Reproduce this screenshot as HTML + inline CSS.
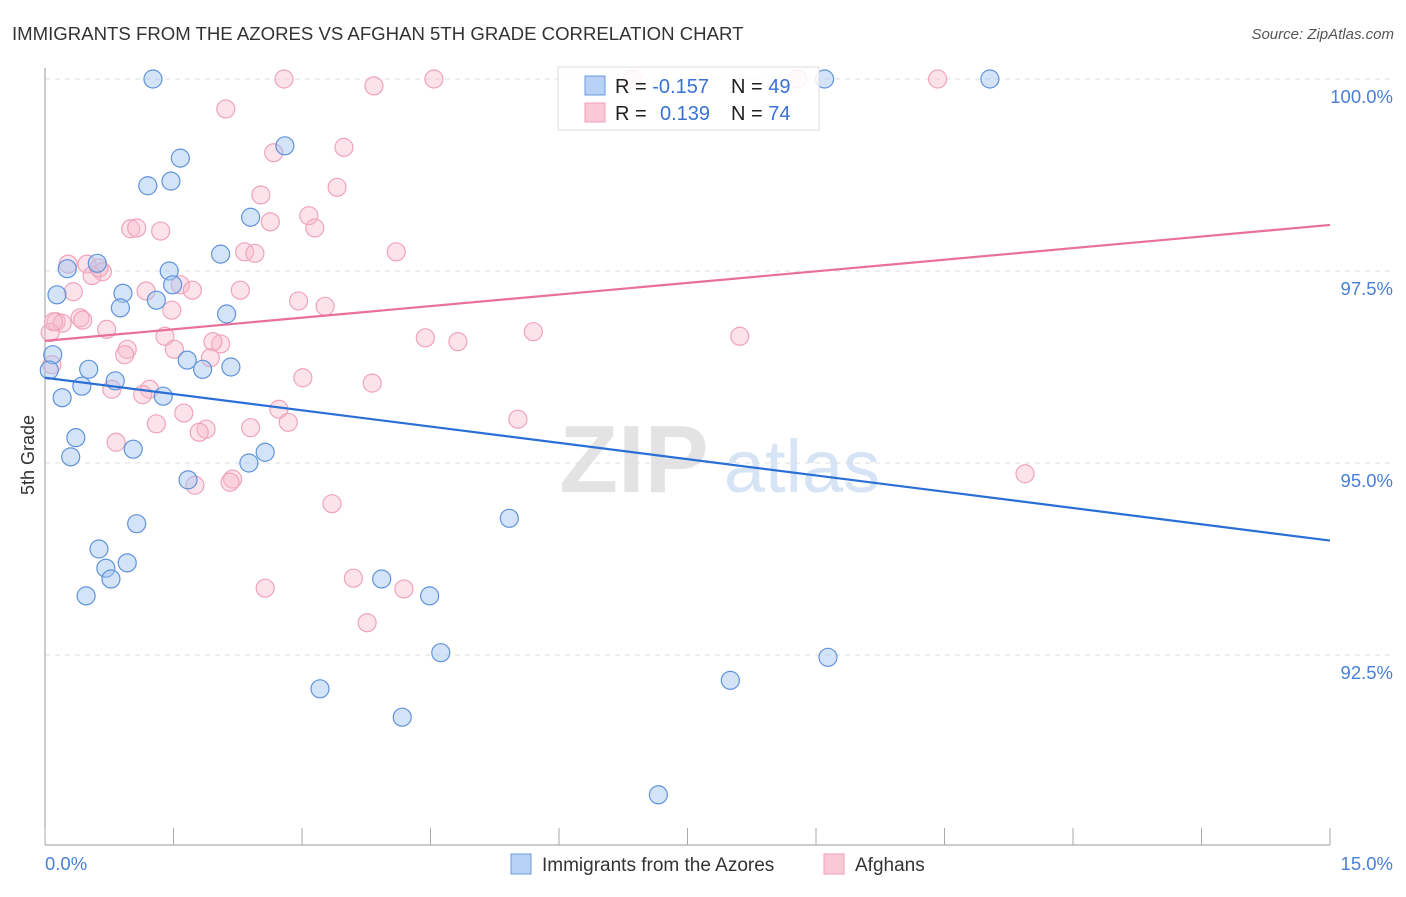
<!DOCTYPE html>
<html><head><meta charset="utf-8"><style>
body{margin:0;background:#fff;font-family:"Liberation Sans",sans-serif;}
svg text{font-family:"Liberation Sans",sans-serif;}
</style></head><body>
<svg width="1406" height="892" viewBox="0 0 1406 892">
<text x="12" y="40" font-size="18.6" fill="#333">IMMIGRANTS FROM THE AZORES VS AFGHAN 5TH GRADE CORRELATION CHART</text>
<text x="1394" y="39" font-size="15" fill="#555" text-anchor="end" font-style="italic">Source: ZipAtlas.com</text>
<g>
<text x="634" y="492" font-size="96" fill="#e3e3e3" text-anchor="middle" font-family="Liberation Serif" font-weight="bold">ZIP</text>
<text x="802" y="492" font-size="74" fill="#d6e4f5" text-anchor="middle">atlas</text>
</g>
<g id="grid"></g>
<g id="axes"></g>
<g id="pts"></g>
<g id="lines"></g>
<text transform="translate(34,455) rotate(-90)" font-size="18" fill="#333" text-anchor="middle">5th Grade</text>
<g>
<rect x="558" y="67" width="261" height="63" fill="rgba(255,255,255,0.85)" stroke="#ddd"/>
<rect x="585" y="76" width="20" height="19" fill="#b8d2f5" stroke="#6a9ae0"/>
<rect x="585" y="103" width="20" height="19" fill="#fbc8d6" stroke="#f0a0b8"/>
<text x="615" y="93" font-size="20" fill="#222">R = <tspan fill="#3a72d4">-0.157</tspan><tspan x="731">N = </tspan><tspan fill="#3a72d4">49</tspan></text>
<text x="615" y="120" font-size="20" fill="#222">R = <tspan x="660" fill="#3a72d4">0.139</tspan><tspan x="731">N = </tspan><tspan fill="#3a72d4">74</tspan></text>
</g>
<g>
<rect x="511" y="854" width="20" height="20" fill="#b8d2f5" stroke="#6a9ae0"/>
<text x="542" y="871" font-size="19" fill="#333">Immigrants from the Azores</text>
<rect x="824" y="854" width="20" height="20" fill="#fbc8d6" stroke="#f0a0b8"/>
<text x="855" y="871" font-size="19" fill="#333">Afghans</text>
</g>
</svg>
<script>
const yTicks=[100,97.5,95,92.5];
const yTickLabels=["100.0%","97.5%","95.0%","92.5%"];
const xEndLabels=["0.0%","15.0%"];
const blueX=[1.26,9.10,11.03,2.80,1.58,1.20,1.47,2.40,2.05,0.26,0.61,1.45,0.14,0.91,1.30,0.88,1.49,2.12,0.09,0.05,0.51,1.66,1.84,2.17,0.82,0.43,1.38,0.20,0.36,1.03,0.30,2.57,2.38,1.67,1.07,5.42,0.63,0.71,0.96,0.77,0.48,3.93,4.49,4.62,9.14,3.21,8.00,4.17,7.16];
const blueY=[100,100,100,99.13,98.97,98.61,98.67,98.20,97.72,97.53,97.60,97.50,97.19,97.21,97.12,97.02,97.32,96.94,96.41,96.21,96.22,96.34,96.22,96.25,96.07,96.00,95.87,95.85,95.33,95.18,95.08,95.14,95.00,94.78,94.21,94.28,93.88,93.63,93.70,93.49,93.27,93.49,93.27,92.53,92.47,92.06,92.17,91.69,90.68];
const pinkX=[2.79,4.54,6.86,8.78,10.42,3.84,2.11,3.49,2.67,3.41,2.52,3.08,2.63,3.15,1.00,1.07,1.35,2.33,2.45,4.10,0.27,0.49,0.67,0.55,0.33,1.18,1.58,1.72,2.28,2.96,3.27,1.48,0.13,0.20,0.41,0.44,0.72,1.40,2.05,1.96,4.44,4.82,5.70,8.11,0.96,1.51,0.93,1.93,0.08,3.01,3.82,0.78,1.22,1.14,2.73,1.62,5.52,2.84,1.30,1.88,1.80,2.40,0.83,11.44,2.19,2.16,1.75,3.35,3.60,2.57,4.19,3.76,0.63,0.06,0.10];
const pinkY=[100,100,100,100,100,99.91,99.61,99.11,99.04,98.59,98.49,98.22,98.14,98.06,98.05,98.06,98.02,97.75,97.73,97.75,97.59,97.59,97.49,97.44,97.23,97.24,97.32,97.25,97.25,97.11,97.04,96.99,96.84,96.82,96.89,96.86,96.74,96.65,96.55,96.58,96.63,96.58,96.71,96.65,96.48,96.48,96.41,96.37,96.28,96.11,96.04,95.96,95.96,95.89,95.70,95.65,95.57,95.53,95.51,95.44,95.40,95.46,95.27,94.86,94.79,94.75,94.71,94.47,93.50,93.37,93.36,92.92,97.54,96.70,96.84];
const blueTrend=[96.11,93.99];
const pinkTrend=[96.59,98.10];
const NS="http://www.w3.org/2000/svg";
const X=v=>45+v/15*1285, Y=v=>79+(100-v)/2.5*192;
function mk(tag,attrs,parent){const e=document.createElementNS(NS,tag);for(const k in attrs)e.setAttribute(k,attrs[k]);document.getElementById(parent).appendChild(e);return e;}
yTicks.forEach((t,i)=>{
 const l=mk('line',{x1:45,x2:1393,y1:Y(t),y2:Y(t),stroke:'#ddd','stroke-dasharray':'5,5'},'grid');
 
 
 const tx=mk('text',{x:1393,y:Y(t)+24,'font-size':18.5,fill:'#4a7fd6','text-anchor':'end'},'grid');
 tx.textContent=yTickLabels[i];
 
 
});
const ax=mk('line',{x1:45,x2:45,y1:68,y2:845,stroke:'#999'},'axes');


const bx=mk('line',{x1:45,x2:1330,y1:845,y2:845,stroke:'#999'},'axes');


for(let i=0;i<=10;i++){
 const t=mk('line',{x1:X(i*1.5),x2:X(i*1.5),y1:828,y2:845,stroke:'#aaa'},'axes');
 
 
}
[[0,'start',45],[1,'end',1393]].forEach(([i,a,x])=>{
 const t=mk('text',{x:x,y:870,'font-size':18.5,fill:'#4a7fd6','text-anchor':a},'axes');
 t.textContent=xEndLabels[i];
 
 
});
pinkX.forEach((x,i)=>{
 const c=mk('circle',{cx:X(x),cy:Y(pinkY[i]),r:9,fill:'rgba(248,185,203,0.4)',stroke:'#f0a3bb','stroke-width':1.2},'pts');
 
 
});
blueX.forEach((x,i)=>{
 const c=mk('circle',{cx:X(x),cy:Y(blueY[i]),r:9,fill:'rgba(160,195,240,0.45)',stroke:'#5f93dc','stroke-width':1.2},'pts');
 
 
});
const bl=mk('line',{x1:X(0),y1:Y(blueTrend[0]),x2:X(15),y2:Y(blueTrend[1]),stroke:'#2a6fd6','stroke-width':2.2},'lines');


const pl=mk('line',{x1:X(0),y1:Y(pinkTrend[0]),x2:X(15),y2:Y(pinkTrend[1]),stroke:'#e8709a','stroke-width':2.2},'lines');


</script>
</body></html>
